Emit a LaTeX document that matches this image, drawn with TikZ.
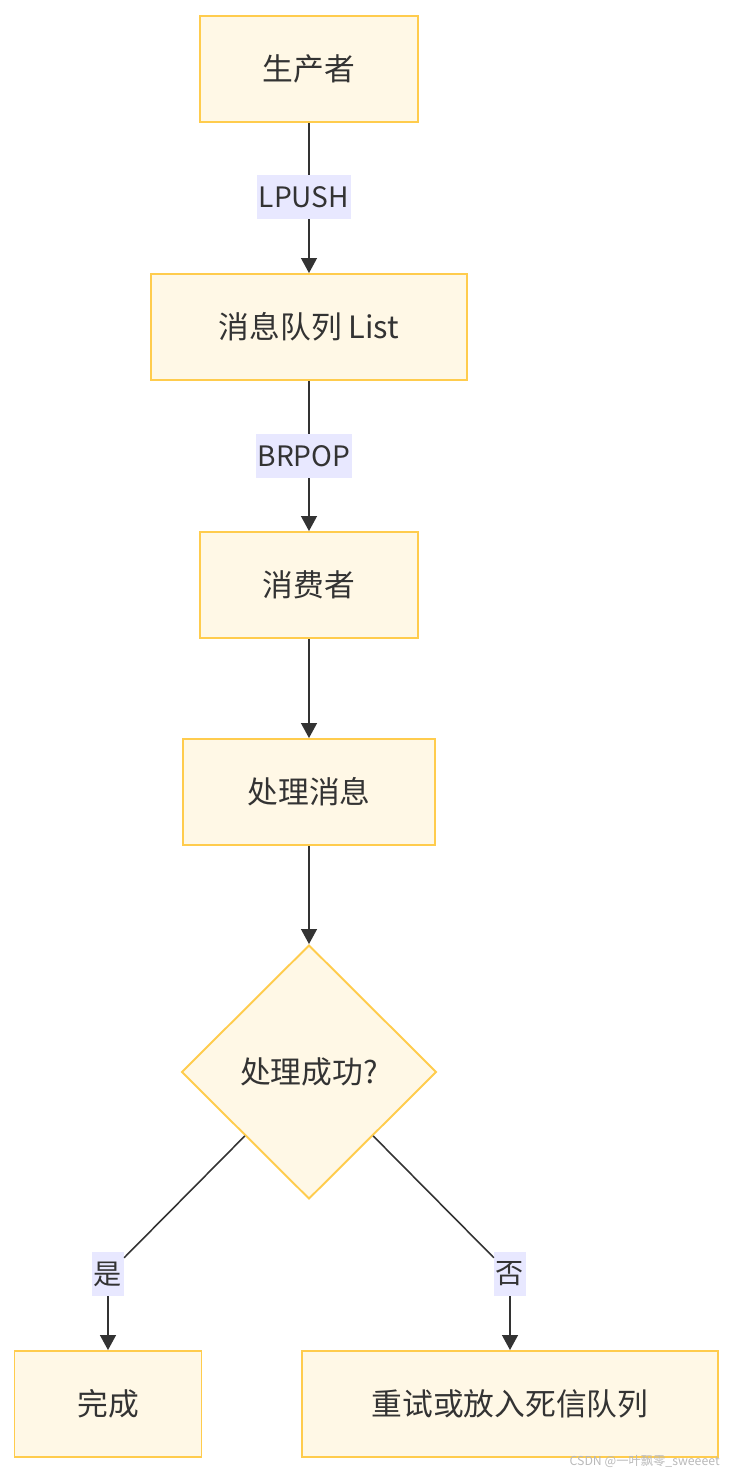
\documentclass[tikz,border=0pt]{standalone}
\usepackage{fontspec}
\setmainfont{Noto Sans CJK SC}
\usetikzlibrary{shapes.geometric,arrows.meta,positioning}

\definecolor{boxfill}{HTML}{FFF8E6}
\definecolor{boxline}{HTML}{FFCC4D}
\definecolor{edgecol}{HTML}{333333}
\definecolor{lblfill}{HTML}{E8E8FF}
\definecolor{textcol}{HTML}{333333}

\tikzset{
  box/.style={draw=boxline, fill=boxfill, line width=1.1pt, text=textcol,
    font=\fontsize{17.5}{21}\selectfont, inner sep=0, minimum height=2.12cm},
  decision/.style={box, diamond, aspect=1, minimum width=5.1cm, minimum height=5.08cm},
  lbl/.style={fill=lblfill, text=textcol, font=\fontsize{16}{19}\selectfont,
    inner xsep=1pt, inner ysep=0, minimum height=0.88cm},
  flow/.style={draw=edgecol, line width=0.9pt},
  arr/.style={flow, -{Triangle[length=8.5pt,width=9pt]}}
}

\begin{document}
\begin{tikzpicture}[x=0.02cm, y=-0.02cm]

  \useasboundingbox (0,0) rectangle (736,1474);

  % nodes
  \node[box, minimum width=4.36cm] (prod)  at (309,69)  {生产者};
  \node[box, minimum width=6.32cm] (queue) at (309,327) {消息队列 List};
  \node[box, minimum width=4.36cm] (cons)  at (309,585) {消费者};
  \node[box, minimum width=5.04cm] (proc)  at (309,792) {处理消息};
  \node[decision] (dec) at (309,1072) {处理成功?};
  \node[box, minimum width=3.74cm] (done)  at (108,1404) {完成};
  \node[box, minimum width=8.32cm] (retry) at (510,1404) {重试或放入死信队列};

  % edge labels
  \node[lbl] (lpush) at (304,197)  {LPUSH};
  \node[lbl] (brpop) at (304,456)  {BRPOP};
  \node[lbl] (yes)   at (108,1274) {是};
  \node[lbl] (no)    at (510,1274) {否};

  % edges
  \draw[flow] (prod.south) -- (prod.south |- lpush.north);
  \draw[arr]  (prod.south |- lpush.south) -- (queue.north);
  \draw[flow] (queue.south) -- (queue.south |- brpop.north);
  \draw[arr]  (queue.south |- brpop.south) -- (cons.north);
  \draw[arr]  (cons) -- (proc);
  \draw[arr]  (proc) -- (dec);
  \draw[flow] (dec.south west) -- (yes);
  \draw[arr]  (yes) -- (done);
  \draw[flow] (dec.south east) -- (no);
  \draw[arr]  (no) -- (retry);

  \node[anchor=east, text=gray!55, font=\fontsize{7}{8}\selectfont, inner sep=0]
    (mark) at (720,1461) {CSDN @一叶飘零\_sweeeet};

\end{tikzpicture}
\end{document}
